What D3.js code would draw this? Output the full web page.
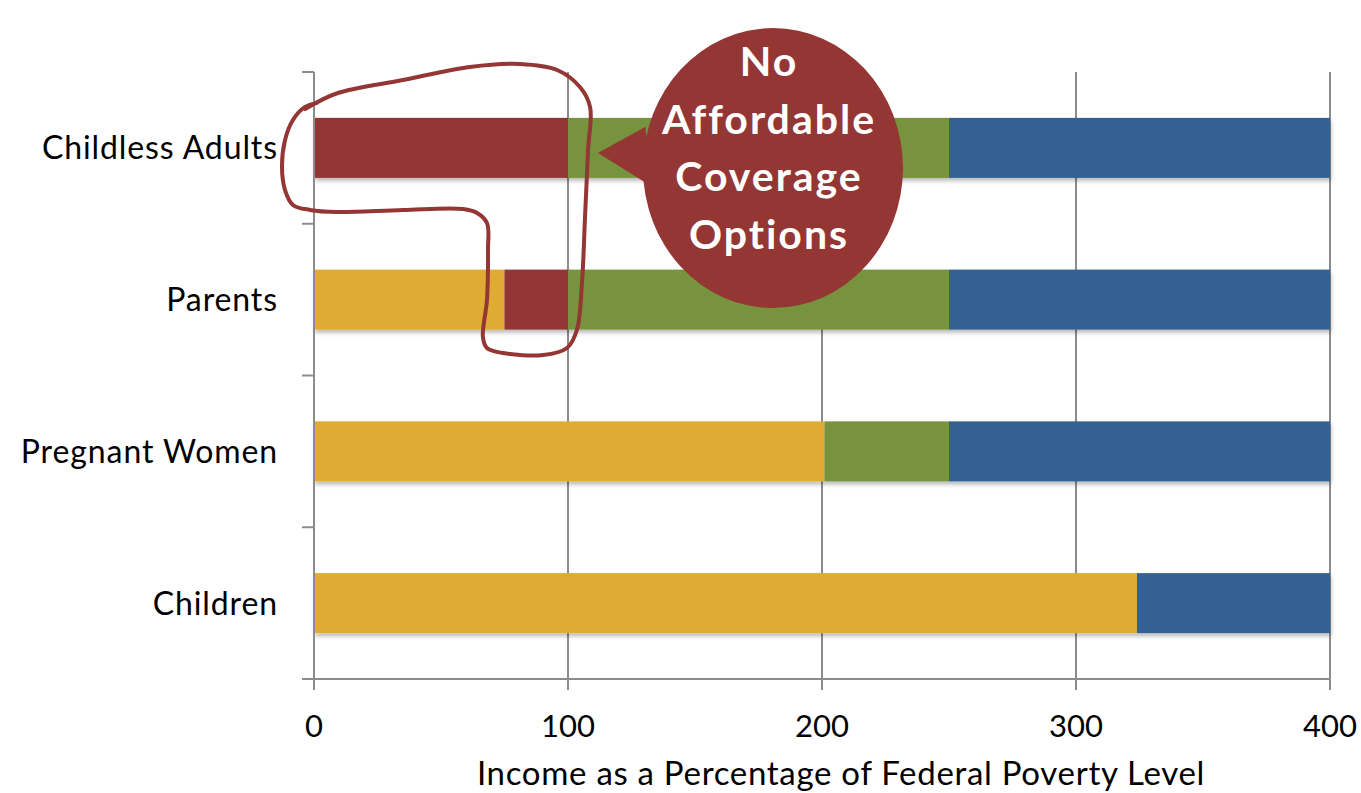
<!DOCTYPE html>
<html>
<head>
<meta charset="utf-8">
<script src="https://cdn.jsdelivr.net/npm/d3@7"></script>
<style>
  html, body { margin: 0; padding: 0; background: #ffffff; }
  svg { display: block; }
  text { font-family: Lato, "Open Sans", "DejaVu Sans", sans-serif; }
</style>
</head>
<body>
<svg id="chart" width="1361" height="793"></svg>
<script>
// Eligibility ranges by group, as a percentage of the federal poverty level
const categories = ["Childless Adults", "Parents", "Pregnant Women", "Children"];
const medicaidChip   = [0, 75, 201, 324];   // public coverage
const noOption       = [100, 25, 0, 0];     // no affordable coverage
const subsidized     = [150, 150, 49, 0];   // subsidized coverage
const aboveSubsidy   = [150, 150, 150, 76]; // above subsidy range
const seriesNames = ["Medicaid/CHIP", "No Affordable Option", "Subsidized", "Above"];
const seriesColors = ["#DFAB33", "#943634", "#77933C", "#366092"];
const xTicks = [0, 100, 200, 300, 400];
const xTitle = "Income as a Percentage of Federal Poverty Level";
const calloutLines = ["No", "Affordable", "Coverage", "Options"];

// Hand-drawn outline around the gap, in (x value, category-band units)
const loopPoints = [
  [-3.5, 0.244], [9.1, 0.14], [35.0, 0.053], [61.4, -0.033], [81.1, -0.053],
  [95.7, -0.013], [104.7, 0.099], [108.7, 0.231], [107.9, 0.514], [106.7, 0.956],
  [105.5, 1.390], [103.5, 1.700], [99.6, 1.819], [90.2, 1.865], [74.4, 1.852],
  [68.1, 1.819], [66.5, 1.746], [68.1, 1.502], [68.5, 1.173], [68.1, 0.995],
  [64.2, 0.929], [58.7, 0.903], [35.0, 0.909], [9.1, 0.923], [-1.6, 0.909],
  [-8.3, 0.876], [-11.4, 0.778], [-12.6, 0.626], [-11.4, 0.448], [-8.3, 0.316],
  [-3.5, 0.230], [1.0, 0.205]
];

const svg = d3.select("#chart");
const plot = { left: 314, right: 1330, top: 72, bottom: 679 };

const x = d3.scaleLinear().domain([0, 400]).range([plot.left, plot.right]);
const y = d3.scaleBand().domain(categories)
  .range([plot.top, plot.bottom])
  .paddingInner(0.6046).paddingOuter(0.3023);
const yUnit = d3.scaleLinear().domain([0, categories.length]).range([plot.top, plot.bottom]);

// Drop shadow under bars
const defs = svg.append("defs");
const f = defs.append("filter").attr("id", "barShadow")
  .attr("x", "-5%").attr("y", "-20%").attr("width", "110%").attr("height", "160%");
f.append("feDropShadow").attr("dx", 1).attr("dy", 3).attr("stdDeviation", 2)
  .attr("flood-color", "#000").attr("flood-opacity", 0.28);

const gridColor = "#8c8c8c";

// Vertical gridlines
svg.append("g").selectAll("line").data(xTicks.filter(d => d > 0)).join("line")
  .attr("x1", d => x(d)).attr("x2", d => x(d))
  .attr("y1", plot.top).attr("y2", plot.bottom)
  .attr("stroke", gridColor).attr("stroke-width", 2);

// Stacked data
const rows = categories.map((c, i) => ({
  cat: c,
  "Medicaid/CHIP": medicaidChip[i],
  "No Affordable Option": noOption[i],
  "Subsidized": subsidized[i],
  "Above": aboveSubsidy[i]
}));
const stacked = d3.stack().keys(seriesNames)(rows);

const barG = svg.append("g");
categories.forEach((c, ci) => {
  const g = barG.append("g").attr("filter", "url(#barShadow)");
  stacked.forEach((s, si) => {
    const seg = s[ci];
    if (seg[1] - seg[0] <= 0) return;
    g.append("rect")
      .attr("x", x(seg[0])).attr("width", x(seg[1]) - x(seg[0]))
      .attr("y", y(c)).attr("height", y.bandwidth())
      .attr("fill", seriesColors[si]);
  });
});

// Axes
const axisG = svg.append("g");
axisG.append("line")
  .attr("x1", plot.left).attr("x2", plot.left)
  .attr("y1", plot.top).attr("y2", plot.bottom)
  .attr("stroke", gridColor).attr("stroke-width", 2);
axisG.append("line")
  .attr("x1", plot.left - 12).attr("x2", plot.right)
  .attr("y1", plot.bottom).attr("y2", plot.bottom)
  .attr("stroke", gridColor).attr("stroke-width", 2);
// category separators
axisG.selectAll(".ytick").data(d3.range(categories.length + 1)).join("line")
  .attr("x1", plot.left - 12).attr("x2", plot.left)
  .attr("y1", d => yUnit(d)).attr("y2", d => yUnit(d))
  .attr("stroke", gridColor).attr("stroke-width", 2);
// x tick marks
axisG.selectAll(".xtick").data(xTicks).join("line")
  .attr("x1", d => x(d)).attr("x2", d => x(d))
  .attr("y1", plot.bottom).attr("y2", plot.bottom + 11)
  .attr("stroke", gridColor).attr("stroke-width", 2);

// Tick labels
svg.append("g").selectAll("text").data(xTicks).join("text")
  .attr("x", d => x(d)).attr("y", 737)
  .attr("text-anchor", "middle")
  .attr("font-size", 31).attr("fill", "#000")
  .text(d => d);

svg.append("g").selectAll("text").data(categories).join("text")
  .attr("x", 278).attr("y", d => y(d) + y.bandwidth() / 2)
  .attr("dy", "0.36em")
  .attr("text-anchor", "end")
  .attr("font-size", 32).attr("letter-spacing", 0.9).attr("fill", "#000")
  .text(d => d);

svg.append("text")
  .attr("x", 841).attr("y", 785)
  .attr("text-anchor", "middle")
  .attr("font-size", 33).attr("letter-spacing", 0.7).attr("fill", "#000")
  .text(xTitle);

// Hand-drawn loop
const loop = d3.line()
  .x(d => x(d[0])).y(d => yUnit(d[1]))
  .curve(d3.curveCatmullRom.alpha(0.5));
svg.append("path")
  .attr("d", loop(loopPoints))
  .attr("fill", "none")
  .attr("stroke", "#943634")
  .attr("stroke-width", 4)
  .attr("stroke-linecap", "round")
  .attr("stroke-linejoin", "round");

// Speech-bubble callout
const bubble = { cx: 180.7, cy: 0.633, rx: 130, ry: 140 };
const tip = [111.8, 0.534], baseA = [130.5, 0.36], baseB = [132.5, 0.75];
const cg = svg.append("g");
cg.append("path")
  .attr("d", `M${x(baseA[0])},${yUnit(baseA[1])} L${x(tip[0])},${yUnit(tip[1])} L${x(baseB[0])},${yUnit(baseB[1])} Z`)
  .attr("fill", "#943634");
cg.append("ellipse")
  .attr("cx", x(bubble.cx)).attr("cy", yUnit(bubble.cy))
  .attr("rx", bubble.rx).attr("ry", bubble.ry)
  .attr("fill", "#943634");
cg.selectAll("text").data(calloutLines).join("text")
  .attr("x", x(bubble.cx) - 4)
  .attr("y", (d, i) => 76 + i * 57.5)
  .attr("text-anchor", "middle")
  .attr("font-size", 41).attr("font-weight", "bold").attr("letter-spacing", 2)
  .attr("fill", "#ffffff")
  .text(d => d);
</script>
</body>
</html>
